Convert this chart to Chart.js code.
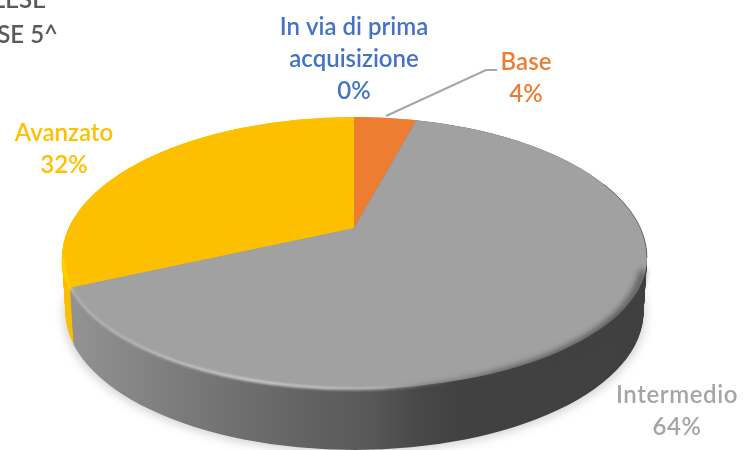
<!DOCTYPE html>
<html><head><meta charset="utf-8">
<style>html,body{margin:0;padding:0;background:#fff}canvas{display:block}</style>
<script src="https://cdn.jsdelivr.net/npm/chart.js@4"></script>
</head><body>
<canvas id="c" width="745" height="450"></canvas>
<script>
const categories = ["In via di prima acquisizione", "Base", "Intermedio", "Avanzato"];
const labelLines = [["In via di prima", "acquisizione"], ["Base"], ["Intermedio"], ["Avanzato"]];
const values = [0, 4, 64, 32];
const colors = ["#4472C4", "#ED7D31", "#A1A1A1", "#FDC000"];
const textColors = ["#4472C4", "#ED7D31", "#A5A5A5", "#FFC000"];
const titleLines = ["INGLESE", "CLASSE 5^"];

const TILT = 0.445, TOP = {cx:354.5, cy:258, rx:292.5, up:141, down:131};
const BOT = {cx:354.5, cy:312, rx:289, up:141, down:138}, DEPTH = 57;

function ellipsePath(c, e){
  c.beginPath();
  c.ellipse(e.cx, e.cy, e.rx, e.up, 0, Math.PI, 2*Math.PI);
  c.ellipse(e.cx, e.cy, e.rx, e.down, 0, 0, Math.PI);
  c.closePath();
}
function lerpE(t){
  const o = {};
  for (const k in TOP) o[k] = TOP[k] + (BOT[k]-TOP[k])*t;
  return o;
}
function hGrad(c, x0, x1, stops){
  const g = c.createLinearGradient(x0,0,x1,0);
  stops.forEach(s => g.addColorStop((s[0]-x0)/(x1-x0), s[1]));
  return g;
}

const pie3d = {
  id:'pie3d',
  beforeDatasetsDraw(chart){
    const c = chart.ctx, arcs = chart.getDatasetMeta(0).data;
    const cx = arcs[0].x, cy = arcs[0].y;
    const tilt = (dy) => { c.translate(cx, cy+dy); c.scale(1, TILT); c.translate(-cx, -cy); };

    // soft drop shadow
    c.save();
    c.filter = 'blur(5px)';
    c.fillStyle = 'rgba(0,0,0,0.17)';
    ellipsePath(c, {...BOT, cy:BOT.cy+3, rx:BOT.rx+2});
    c.fill();
    c.restore();

    // side wall: same slices swept downward
    const grey = hGrad(c, 62, 650, [[62,'#959595'],[130,'#868686'],[200,'#777777'],[300,'#646464'],[372,'#575757'],[420,'#484848'],[460,'#414141'],[650,'#404040']]);
    const wallFill = [colors[0], colors[1], grey, '#FBBE00'];
    for (let d = DEPTH; d >= 0; d--){
      c.save();
      ellipsePath(c, lerpE(d/DEPTH));
      c.clip();
      tilt(d);
      arcs.forEach((el,i) => {
        if (!values[i]) return;
        const clone = Object.create(el, {options:{value:{...el.options, backgroundColor:wallFill[i]}}});
        el.draw.call(clone, c);
      });
      c.restore();
    }

    // top face
    c.save();
    ellipsePath(c, TOP);
    c.clip();
    tilt(0);
    arcs.forEach((el,i) => { if (values[i]) el.draw(c); });
    c.restore();

    // crisp rim highlight on the lit side
    c.save();
    c.beginPath(); c.rect(0,250,460,200); c.clip();
    c.filter = 'blur(1px)';
    c.lineWidth = 3;
    c.strokeStyle = hGrad(c, 62, 460, [[62,'rgba(255,214,0,0.9)'],[71,'rgba(255,214,0,0.9)'],[73,'rgba(190,190,190,0.5)'],[250,'rgba(208,208,208,0.9)'],[372,'rgba(190,190,190,0.75)'],[430,'rgba(130,130,130,0.5)'],[460,'rgba(100,100,100,0)']]);
    c.beginPath();
    c.ellipse(TOP.cx, TOP.cy, TOP.rx-1, TOP.down, 0, Math.PI, 0, true);
    c.stroke();
    c.restore();
    // soft transition on the shaded side
    c.save();
    c.filter = 'blur(3px)';
    c.lineWidth = 6;
    c.strokeStyle = hGrad(c, 400, 650, [[400,'rgba(66,66,66,0)'],[500,'rgba(66,66,66,0.85)'],[650,'rgba(64,64,64,0.85)']]);
    c.beginPath();
    c.ellipse(TOP.cx, TOP.cy+2, TOP.rx-3, TOP.down, 0, 0.08, Math.PI/2);
    c.stroke();
    c.restore();
    c.save();
    c.lineWidth = 1;
    c.strokeStyle = 'rgba(60,60,60,0.55)';
    c.beginPath();
    c.ellipse(TOP.cx, TOP.cy, TOP.rx, TOP.up, 0, -0.55, 0);
    c.stroke();
    c.restore();
    return false;
  },
  afterDraw(chart){
    const c = chart.ctx;
    c.save();
    // leader line for Base
    c.strokeStyle = '#A6A6A6'; c.lineWidth = 2;
    c.beginPath(); c.moveTo(386,116); c.lineTo(486,70); c.lineTo(497,70); c.stroke();

    c.textBaseline = 'alphabetic';
    c.font = '600 24px Lato';
    c.fillStyle = '#595959';
    c.textAlign = 'right';
    c.fillText(titleLines[0], 46, 8);
    c.fillText(titleLines[1], 58, 43);

    c.textAlign = 'center';
    const anchors = [[354,35,32],[526,70,32],[677,403,32],[64,141,32]];
    values.forEach((v,i) => {
      const [x,y,lh] = anchors[i];
      c.fillStyle = textColors[i];
      c.letterSpacing = i===2 ? '0.6px' : '0px';
      const lines = labelLines[i].concat([v+'%']);
      lines.forEach((t,j) => c.fillText(t, x, y+j*lh));
    });
    c.restore();
  }
};

new Chart(document.getElementById('c'), {
  type:'pie',
  data:{labels:categories, datasets:[{data:values, backgroundColor:colors, borderWidth:0, radius:430, clip:false}]},
  options:{
    responsive:false, animation:false,
    layout:{padding:{right:37, top:6}},
    plugins:{legend:{display:false}, tooltip:{enabled:false}, title:{display:false}}
  },
  plugins:[pie3d]
});
</script>
</body></html>
